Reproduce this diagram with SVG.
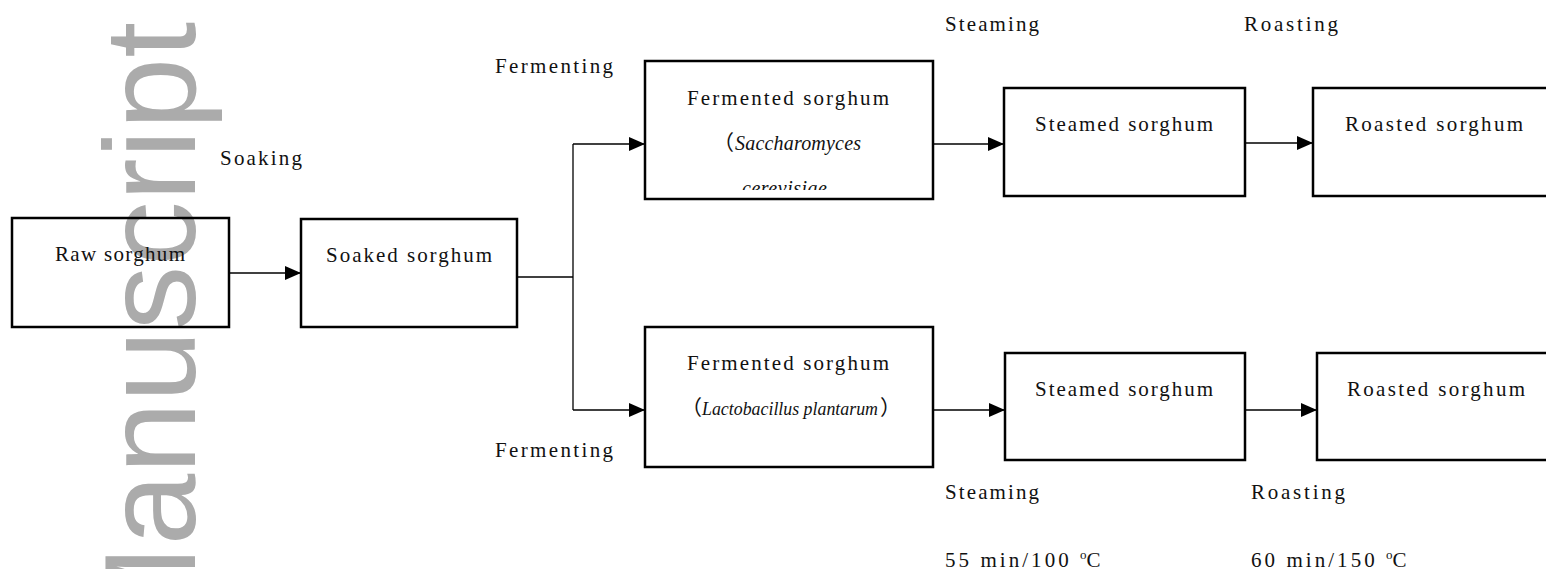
<svg xmlns="http://www.w3.org/2000/svg" width="1546" height="569" viewBox="0 0 1546 569">
<style>
.box{fill:none;stroke:#000;stroke-width:2.5}
.ln{fill:none;stroke:#000;stroke-width:1.3}
.t{font-family:"Liberation Serif","Noto Sans CJK SC",serif;font-size:21px;fill:#111}
.i{font-style:italic;font-size:20px}
.wm{font-family:"Liberation Sans",Arial,sans-serif;font-size:129px;fill:#ababab}
</style>
<defs>
<marker id="ah" markerUnits="userSpaceOnUse" markerWidth="16" markerHeight="14" refX="16" refY="7" orient="auto">
<path d="M0,0 L16,7 L0,14 z" fill="#000"/>
</marker>
<clipPath id="clipTop"><rect x="646" y="62" width="286" height="128"/></clipPath>
</defs>
<rect width="1546" height="569" fill="#fff"/>
<text class="wm" x="195" y="22" text-anchor="end" transform="rotate(-90 195 22)">Manuscript</text>
<g id="connectors">
<path class="ln" d="M229,273 H301" marker-end="url(#ah)"/>
<path class="ln" d="M517,277 H573"/>
<path class="ln" d="M573,144 V410"/>
<path class="ln" d="M573,144 H645" marker-end="url(#ah)"/>
<path class="ln" d="M573,410 H645" marker-end="url(#ah)"/>
<path class="ln" d="M933,144 H1004" marker-end="url(#ah)"/>
<path class="ln" d="M1245,143 H1313" marker-end="url(#ah)"/>
<path class="ln" d="M933,410 H1005" marker-end="url(#ah)"/>
<path class="ln" d="M1245,410 H1317" marker-end="url(#ah)"/>
</g>
<g id="labels">
<text class="t" x="220" y="165" textLength="82" lengthAdjust="spacing">Soaking</text>
<text class="t" x="495" y="73" textLength="118" lengthAdjust="spacing">Fermenting</text>
<text class="t" x="495" y="457" textLength="118" lengthAdjust="spacing">Fermenting</text>
<text class="t" x="945" y="31" textLength="94" lengthAdjust="spacing">Steaming</text>
<text class="t" x="1244" y="31" textLength="94" lengthAdjust="spacing">Roasting</text>
<text class="t" x="945" y="499" textLength="94" lengthAdjust="spacing">Steaming</text>
<text class="t" x="1251" y="499" textLength="94" lengthAdjust="spacing">Roasting</text>
<text class="t" x="945" y="567"><tspan textLength="132" lengthAdjust="spacing">55 min/100 </tspan><tspan style="font-size:13px" dy="-8">o</tspan><tspan dy="8">C</tspan></text>
<text class="t" x="1251" y="567"><tspan textLength="132" lengthAdjust="spacing">60 min/150 </tspan><tspan style="font-size:13px" dy="-8">o</tspan><tspan dy="8">C</tspan></text>
</g>
<g id="raw">
<rect class="box" x="12" y="218" width="217" height="109"/>
<text class="t" x="55" y="261" textLength="130" lengthAdjust="spacing">Raw sorghum</text>
</g>
<g id="soaked">
<rect class="box" x="301" y="219" width="216" height="108"/>
<text class="t" x="326" y="262" textLength="166" lengthAdjust="spacing">Soaked sorghum</text>
</g>
<g id="fermented-top">
<rect class="box" x="645" y="61" width="288" height="138"/>
<text class="t" x="687" y="105" textLength="202" lengthAdjust="spacing">Fermented sorghum</text>
<text class="t" x="713" y="150">（<tspan class="i" x="735" textLength="126" lengthAdjust="spacing">Saccharomyces</tspan></text>
<g clip-path="url(#clipTop)"><text class="t i" x="742" y="195" textLength="85" lengthAdjust="spacing">cerevisiae</text></g>
</g>
<g id="steamed-top">
<rect class="box" x="1004" y="88" width="241" height="108"/>
<text class="t" x="1035" y="131" textLength="178" lengthAdjust="spacing">Steamed sorghum</text>
</g>
<g id="roasted-top">
<rect class="box" x="1313" y="88" width="245" height="108"/>
<text class="t" x="1345" y="131" textLength="178" lengthAdjust="spacing">Roasted sorghum</text>
</g>
<g id="fermented-bottom">
<rect class="box" x="645" y="327" width="288" height="140"/>
<text class="t" x="687" y="370" textLength="202" lengthAdjust="spacing">Fermented sorghum</text>
<text class="t" x="681" y="415">（<tspan class="i" x="702" style="font-size:18px" textLength="176" lengthAdjust="spacingAndGlyphs">Lactobacillus plantarum</tspan><tspan x="880">）</tspan></text>
</g>
<g id="steamed-bottom">
<rect class="box" x="1005" y="353" width="240" height="107"/>
<text class="t" x="1035" y="396" textLength="178" lengthAdjust="spacing">Steamed sorghum</text>
</g>
<g id="roasted-bottom">
<rect class="box" x="1317" y="353" width="241" height="107"/>
<text class="t" x="1347" y="396" textLength="178" lengthAdjust="spacing">Roasted sorghum</text>
</g>
</svg>
